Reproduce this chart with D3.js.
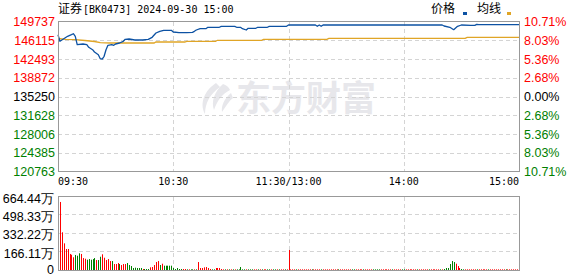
<!DOCTYPE html>
<html>
<head>
<meta charset="utf-8">
<script src="https://cdn.jsdelivr.net/npm/d3@7"></script>
<style>
html, body { margin: 0; padding: 0; background: #fff; }
svg { display: block; }
.grid { stroke: #d4d4d4; stroke-dasharray: 4,3; shape-rendering: crispEdges; }
.frame { fill: none; stroke: #999; shape-rendering: crispEdges; }
.lab { font-family: Arial, "Liberation Sans", sans-serif; font-size: 12.5px; }
.mono { font-family: "DejaVu Sans Mono", monospace; font-size: 10px; }
.cjk { font-family: "Noto Sans CJK SC", sans-serif; font-size: 12px; }
</style>
</head>
<body>
<div id="chart"></div>
<script>
/*global d3*/
(function () {
    "use strict";

    var titleCn = "证券",
        titleRest = "[BK0473] 2024-09-30 15:00",
        priceTicks = [149737, 146115, 142493, 138872, 135250, 131628, 128006, 124385, 120763],
        pctLabels = ["10.71%", "8.03%", "5.36%", "2.68%", "0.00%", "2.68%", "5.36%", "8.03%", "10.71%"],
        timeTicks = [0, 60, 120, 180, 240],
        timeNames = ["09:30", "10:30", "11:30/13:00", "14:00", "15:00"],
        volTicks = [0, 166.11, 332.22, 498.33, 664.44],
        volNames = ["0", "166.11万", "332.22万", "498.33万", "664.44万"],

        // price line, read at the turning points (minute from 09:30, value)
        priceMin = [0, 1, 3, 5, 7, 8, 9, 10, 13, 15, 16, 18, 19, 21, 22, 23, 24, 25, 26, 28, 29, 30, 32, 34, 35, 37, 40, 44, 47, 49,
            51, 53, 55, 59, 60, 63, 67, 70, 71, 72, 74, 77, 78, 84, 85, 92, 93, 95, 96, 98, 99, 103, 104, 109, 110, 119, 120,
            134, 135, 136, 137, 138, 200, 201, 204, 206, 208, 210, 215, 217, 218, 219, 240],
        priceVal = [147187, 145912, 146415, 146878, 147187, 147380, 146878, 145256, 145391, 145256, 144753, 144290, 143846,
            143324, 142551, 142493, 143015, 144290, 145140, 145256, 145140, 145391, 145584, 145912, 146299, 146357, 146164,
            146164, 146299, 146685, 147516, 147844, 148037, 148037, 147709, 147574, 147574, 147651, 147844, 148095, 148346,
            148346, 148617, 148617, 148810, 148810, 148617, 148617, 148346, 148095, 148424, 148424, 148617, 148617, 148810,
            148810, 149061, 149061, 148810, 149061, 148810, 149061, 149061, 148868, 148617, 148153, 148810, 149061, 149003,
            149003, 149196, 149119, 149119],

        avgMin = [0, 4, 9, 14, 19, 22, 27, 50, 51, 66, 67, 82, 83, 106, 107, 140, 141, 212, 213, 240],
        avgVal = [146453, 146299, 146221, 146067, 145874, 145642, 145584, 145584, 145777, 145777, 145912, 145912,
            146106, 146106, 146299, 146299, 146492, 146492, 146685, 146685],

        // volume (万) per minute 09:31 .. 15:00
        volume = [615, 341, 241, 190, 190, 145, 138, 115, 136, 129,
            151, 145, 108, 102, 93, 99, 93, 99, 108, 90,
            90, 120, 142, 111, 90, 99, 81, 81, 54, 54,
            63, 54, 45, 54, 54, 63, 45, 36, 18, 21,
            18, 18, 18, 9, 9, 9, 9, 24, 27, 45,
            72, 81, 45, 57, 39, 39, 39, 39, 39, 18,
            9, 18, 9, 9, 9, 9, 6, 6, 6, 6,
            6, 6, 72, 18, 18, 24, 27, 18, 9, 6,
            6, 18, 18, 18, 9, 6, 6, 6, 6, 6,
            6, 6, 6, 6, 27, 6, 6, 6, 6, 6,
            6, 6, 6, 6, 6, 6, 6, 6, 6, 6,
            6, 6, 6, 6, 6, 6, 6, 6, 6, 181,
            6, 6, 6, 6, 6, 6, 6, 6, 6, 6,
            6, 6, 6, 6, 6, 6, 6, 6, 6, 6,
            6, 6, 6, 6, 6, 6, 6, 6, 6, 6,
            6, 6, 6, 6, 6, 6, 6, 6, 6, 6,
            6, 6, 6, 6, 6, 6, 6, 6, 6, 6,
            6, 6, 6, 6, 6, 6, 6, 6, 6, 6,
            6, 6, 6, 6, 6, 6, 6, 6, 6, 6,
            6, 6, 6, 6, 6, 6, 6, 6, 6, 6,
            9, 18, 18, 54, 81, 72, 57, 36, 18, 9,
            6, 6, 6, 6, 6, 6, 6, 6, 6, 6,
            6, 6, 6, 6, 6, 6, 6, 6, 6, 6,
            6, 6, 6, 6, 6, 6, 6, 6, 6, 6],
        volUp = ("rrrrrrrrgg" + "grrrgggggr" + "ggrrrrrgrr" + "rgrrrggggg" + "gggrgggrrr" + "rrgrgggggg" +
            "ggggrrgrgg" + "rgrrrrrrrg" + "grrrrrgrgr" + "grgggggrgg" + "grrgrgrrgg" + "rggrgrrgrr" +
            "rrrgrrrrrr" + "rgrrrrgrrr" + "rrrrrgrrrr" + "rrggrrrrgr" + "rrrggggrrr" + "rrrgrrrrgg" +
            "rrrrrrgrrr" + "rrgrrrrrgr" + "ggggggrrrg" + "grrrrrrgrr" + "rrrgrrrrrr" + "rrgrrrrrrr").split(""),

        red = "#ff0000",
        green = "#008000",
        blue = "#0d52a3",
        gold = "#e0a526",

        width = 578,
        height = 276,
        left = 58,
        right = 519,

        x = d3.scaleLinear().domain([0, 240]).range([left, right]),
        yP = d3.scaleLinear().domain([120763, 149737]).range([171.5, 21.5]),
        yV = d3.scaleLinear().domain([0, 664.44]).range([270, 196.5]),

        svg = d3.select("#chart").append("svg")
            .attr("width", width)
            .attr("height", height);

    function tone(i, n) {
        var mid = (n - 1) / 2;
        if (i < mid) { return red; }
        if (i > mid) { return green; }
        return "#000";
    }

    // title + legend
    var t = svg.append("text").attr("x", left).attr("y", 12.5).attr("fill", "#000");
    t.append("tspan").attr("class", "cjk").text(titleCn);
    t.append("tspan").attr("class", "mono").attr("dx", 1).text(titleRest);

    svg.append("text").attr("class", "cjk").attr("x", 431).attr("y", 12.5).text("价格");
    svg.append("rect").attr("x", 463).attr("y", 12).attr("width", 4).attr("height", 3).attr("fill", blue);
    svg.append("text").attr("class", "cjk").attr("x", 477).attr("y", 12.5).text("均线");
    svg.append("rect").attr("x", 507).attr("y", 12).attr("width", 4).attr("height", 3).attr("fill", gold);

    // watermark
    var wm = svg.append("g").attr("fill", "#e7e7eb");
    wm.append("path").attr("d", "M216,83 C205,90 199,103 205,114 C205,103 210,94 220,87 Z");
    wm.append("path").attr("d", "M223,84 C214,92 211,102 214,110 C217,101 222,94 230,90 C229,87 226,85 223,84 Z");
    wm.append("path").attr("d", "M231,93 C224,99 221,106 222,112 C226,106 229,101 233,98 Z");
    wm.append("text")
        .attr("x", 236).attr("y", 111)
        .attr("font-family", "'Noto Sans CJK SC', sans-serif")
        .attr("font-weight", "bold")
        .attr("font-size", 35)
        .text("东方财富");

    // price panel grid
    var gp = svg.append("g");
    gp.selectAll(".hg")
        .data(priceTicks.slice(1, -1))
        .enter().append("line")
        .attr("class", "grid")
        .attr("x1", left).attr("x2", right)
        .attr("y1", function (d) { return Math.round(yP(d)) + 0.5; })
        .attr("y2", function (d) { return Math.round(yP(d)) + 0.5; });
    gp.selectAll(".vg")
        .data(timeTicks.slice(1, -1))
        .enter().append("line")
        .attr("class", "grid")
        .attr("x1", function (d) { return Math.round(x(d)) + 0.5; })
        .attr("x2", function (d) { return Math.round(x(d)) + 0.5; })
        .attr("y1", 21.5).attr("y2", 171.5);

    // volume panel grid
    var gv = svg.append("g");
    gv.selectAll(".hg")
        .data(volTicks.slice(1, -1))
        .enter().append("line")
        .attr("class", "grid")
        .attr("x1", left).attr("x2", right)
        .attr("y1", function (d) { return Math.floor(yV(d)) + 0.5; })
        .attr("y2", function (d) { return Math.floor(yV(d)) + 0.5; });
    gv.selectAll(".vg")
        .data(timeTicks.slice(1, -1))
        .enter().append("line")
        .attr("class", "grid")
        .attr("x1", function (d) { return Math.round(x(d)) + 0.5; })
        .attr("x2", function (d) { return Math.round(x(d)) + 0.5; })
        .attr("y1", 196.5).attr("y2", 270);

    // volume bars
    svg.append("g").selectAll("rect")
        .data(volume)
        .enter().append("rect")
        .attr("x", function (d, i) { return Math.round(x(i + 1)); })
        .attr("width", 1)
        .attr("y", function (d) { return yV(d); })
        .attr("height", function (d) { return 270 - yV(d); })
        .attr("fill", function (d, i) { return volUp[i] === "r" ? red : green; });

    // lines
    var line = d3.line()
        .x(function (d) { return x(d[0]); })
        .y(function (d) { return yP(d[1]); });

    svg.append("path")
        .datum(avgMin.map(function (m, i) { return [m, avgVal[i]]; }))
        .attr("fill", "none")
        .attr("stroke", gold)
        .attr("stroke-width", 1.3)
        .attr("d", line);

    svg.append("path")
        .datum(priceMin.map(function (m, i) { return [m, priceVal[i]]; }))
        .attr("fill", "none")
        .attr("stroke", blue)
        .attr("stroke-width", 1.3)
        .attr("stroke-linejoin", "round")
        .attr("d", line);

    // frames
    svg.append("rect").attr("class", "frame")
        .attr("x", left + 0.5).attr("y", 21.5)
        .attr("width", right - left).attr("height", 150);
    svg.append("rect").attr("class", "frame")
        .attr("x", left + 0.5).attr("y", 196.5)
        .attr("width", right - left).attr("height", 73.5);

    // price labels (left) and percent labels (right)
    svg.append("g").selectAll("text")
        .data(priceTicks)
        .enter().append("text")
        .attr("class", "lab")
        .attr("text-anchor", "end")
        .attr("x", 55)
        .attr("y", function (d) { return yP(d) + 4.5; })
        .attr("fill", function (d, i) { return tone(i, priceTicks.length); })
        .text(function (d) { return d; });

    svg.append("g").selectAll("text")
        .data(pctLabels)
        .enter().append("text")
        .attr("class", "lab")
        .attr("x", 524)
        .attr("y", function (d, i) { return yP(priceTicks[i]) + 4.5; })
        .attr("fill", function (d, i) { return tone(i, pctLabels.length); })
        .text(function (d) { return d; });

    // time labels
    svg.append("g").selectAll("text")
        .data(timeTicks)
        .enter().append("text")
        .attr("class", "mono")
        .attr("font-size", "10.5px")
        .attr("x", function (d) { return x(d); })
        .attr("y", 185)
        .attr("text-anchor", function (d, i) {
            return i === 0 ? "start" : (i === timeTicks.length - 1 ? "end" : "middle");
        })
        .text(function (d, i) { return timeNames[i]; });

    // volume labels
    svg.append("g").selectAll("text")
        .data(volTicks)
        .enter().append("text")
        .attr("class", "lab")
        .attr("text-anchor", "end")
        .attr("x", 54)
        .attr("y", function (d) { return Math.min(yV(d) + 6, 274); })
        .attr("fill", "#000")
        .text(function (d, i) { return volNames[i]; });
}());
</script>
</body>
</html>
